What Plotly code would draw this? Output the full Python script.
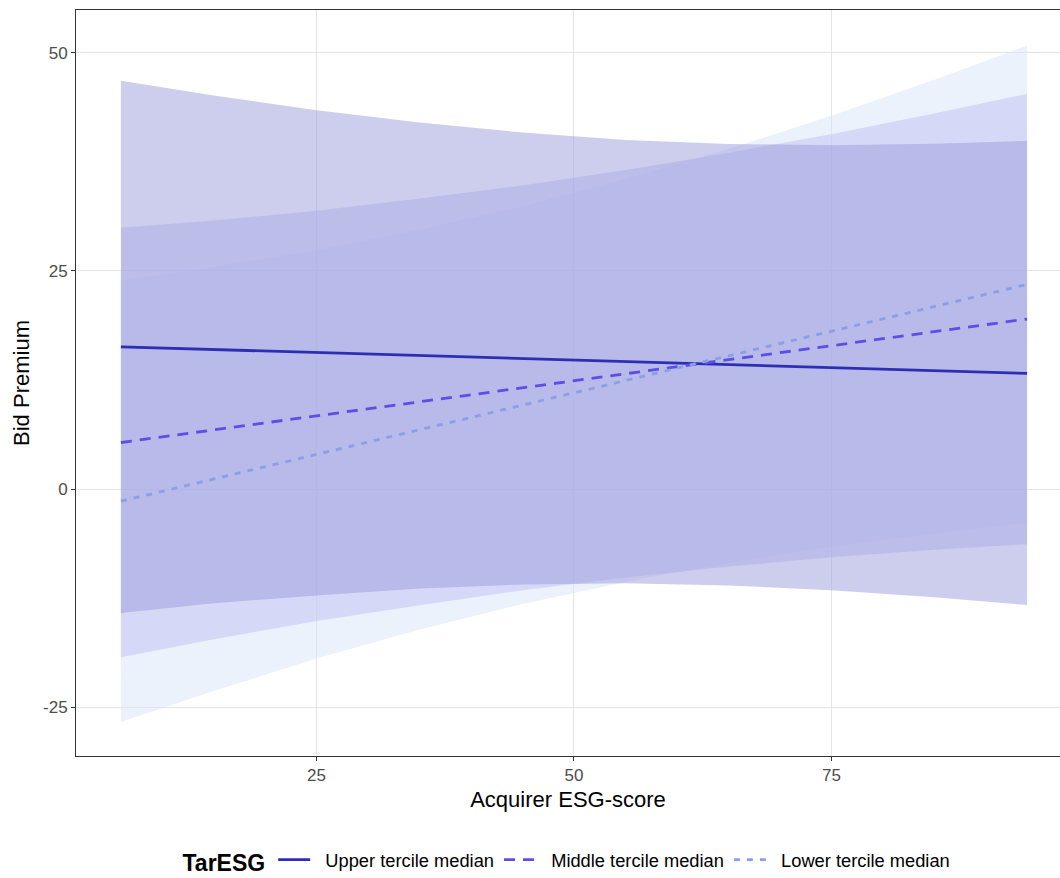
import plotly.graph_objects as go

# Acquirer ESG-score grid
esg = [6, 15, 25, 35, 45, 55, 65, 75, 85, 94]

series_names = ["Upper tercile median", "Middle tercile median", "Lower tercile median"]

# Predicted bid premium (fit lines)
upper_fit = [16.30, 15.99, 15.64, 15.29, 14.95, 14.60, 14.25, 13.91, 13.56, 13.25]
middle_fit = [5.33, 6.77, 8.38, 9.99, 11.59, 13.20, 14.81, 16.42, 18.03, 19.48]
lower_fit = [-1.40, 1.14, 3.97, 6.79, 9.62, 12.44, 15.26, 18.09, 20.91, 23.45]

# Confidence band upper limits
upper_hi = [46.8, 45.1, 43.4, 42.0, 40.85, 40.0, 39.55, 39.4, 39.56, 39.9]
middle_hi = [29.93, 30.77, 31.88, 33.29, 34.79, 36.55, 38.51, 40.67, 43.03, 45.28]
lower_hi = [23.9, 25.44, 27.37, 29.69, 32.42, 35.54, 38.96, 42.79, 46.91, 50.8]

# Confidence band lower limits
upper_lo = [-14.2, -13.1, -12.2, -11.4, -10.95, -10.8, -11.05, -11.6, -12.4, -13.3]
middle_lo = [-19.27, -17.23, -15.12, -13.31, -11.61, -10.15, -8.89, -7.83, -6.97, -6.32]
lower_lo = [-26.7, -23.16, -19.43, -16.11, -13.18, -10.66, -8.44, -6.61, -5.09, -3.9]

x_ticks = [25, 50, 75]
y_ticks = [-25, 0, 25, 50]

fits = [upper_fit, middle_fit, lower_fit]
his = [upper_hi, middle_hi, lower_hi]
los = [upper_lo, middle_lo, lower_lo]
line_colors = ["#2E2EB5", "#5B4FE6", "#8A9FE6"]
fill_colors = ["rgba(155,155,220,0.5)", "rgba(191,190,243,0.5)", "rgba(215,229,247,0.5)"]
dashes = ["solid", "11px,8px", "6px,7px"]

fig = go.Figure()

# ribbons drawn lower -> middle -> upper
for i in [2, 1, 0]:
    fig.add_trace(go.Scatter(
        x=esg + esg[::-1], y=his[i] + los[i][::-1],
        fill="toself", fillcolor=fill_colors[i], mode="none",
        showlegend=False, hoverinfo="skip"))

for name, fit, lc, dash in zip(series_names, fits, line_colors, dashes):
    fig.add_trace(go.Scatter(
        x=esg, y=fit, mode="lines", name="\u00a0\u00a0" + name,
        line=dict(color=lc, width=2.8, dash=dash)))

font_family = "Liberation Sans, Arial, sans-serif"

fig.update_layout(
    width=1060, height=878,
    margin=dict(l=76, r=0, t=10, b=122),
    plot_bgcolor="white", paper_bgcolor="white",
    font=dict(family=font_family, color="black"),
    showlegend=True,
    legend=dict(
        orientation="h", x=0.5, xanchor="center",
        yref="container", y=0.019, yanchor="middle",
        title=dict(text="<b>TarESG</b>", font=dict(size=23, family=font_family)),
        font=dict(size=18.3, family=font_family),
        itemwidth=32,
    ),
    xaxis=dict(
        range=[1.64, 97.2], tickvals=x_ticks, ticktext=[str(v) for v in x_ticks],
        showgrid=True, gridcolor="#E5E5E5", gridwidth=1,
        zeroline=False, automargin=False,
        showline=True, linecolor="#333333", linewidth=1, mirror=True,
        ticks="outside", ticklen=4, tickcolor="#333333",
        tickfont=dict(size=17, color="#4D4D4D"),
        title=dict(text="Acquirer ESG-score", font=dict(size=22), standoff=7),
    ),
    yaxis=dict(
        range=[-30.6, 54.9], tickvals=y_ticks, ticktext=[str(v) for v in y_ticks],
        showgrid=True, gridcolor="#E5E5E5", gridwidth=1,
        zeroline=False, automargin=False,
        showline=True, linecolor="#333333", linewidth=1,
        ticks="outside", ticklen=4, tickcolor="#333333",
        tickfont=dict(size=17, color="#4D4D4D"),
        title=dict(text="Bid Premium", font=dict(size=22), standoff=7),
    ),
)

fig.write_html("out.html", config={"displayModeBar": False},
               post_script="document.body.style.margin='0px';")
